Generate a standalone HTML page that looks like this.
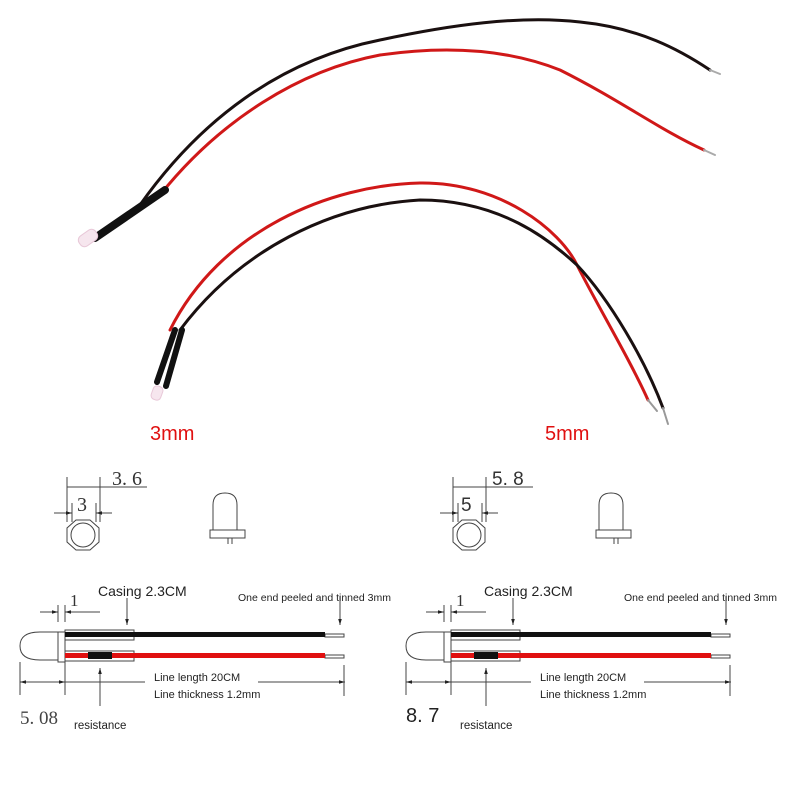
<!DOCTYPE html>
<html><head><style>body{margin:0;background:#fff}svg{display:block}</style></head><body>
<svg width="800" height="800" viewBox="0 0 800 800" xmlns="http://www.w3.org/2000/svg" font-family="Liberation Sans, sans-serif">
<defs>
<marker id="a" viewBox="0 0 10 10" refX="10" refY="5" markerWidth="6" markerHeight="6" orient="auto-start-reverse"><path d="M0,2 L10,5 L0,8z" fill="#222"/></marker>
<g id="diag">
 <g stroke="#444" stroke-width="1" fill="none">
  <line x1="67" y1="477" x2="67" y2="522"/><line x1="100" y1="477" x2="100" y2="522"/>
  <line x1="67" y1="487" x2="147" y2="487"/>
  <line x1="72" y1="503" x2="72" y2="522"/><line x1="96" y1="503" x2="96" y2="522"/>
  <line x1="54" y1="513" x2="72" y2="513" marker-end="url(#a)"/><line x1="112" y1="513" x2="96" y2="513" marker-end="url(#a)"/>
  <polygon points="76,520 90,520 99,528 99,542 90,550 76,550 67,542 67,528"/>
  <circle cx="83" cy="535" r="12"/>
  <path d="M213,530 V505 Q213,493 225,493 Q237,493 237,505 V530"/>
  <rect x="210" y="530" width="35" height="8"/>
  <line x1="228" y1="538" x2="228" y2="544"/><line x1="232" y1="538" x2="232" y2="544"/>
  <path d="M58,632 H40 Q20,632 20,646 Q20,660 40,660 H58"/>
  <rect x="58" y="632" width="7" height="30"/>
  <line x1="58" y1="605" x2="58" y2="622"/><line x1="65" y1="605" x2="65" y2="622"/>
  <line x1="40" y1="612" x2="58" y2="612" marker-end="url(#a)"/><line x1="100" y1="612" x2="65" y2="612" marker-end="url(#a)"/>
  <line x1="20" y1="662" x2="20" y2="695"/><line x1="65" y1="662" x2="65" y2="695"/>
  <line x1="42" y1="682" x2="20" y2="682" marker-end="url(#a)"/><line x1="42" y1="682" x2="65" y2="682" marker-end="url(#a)"/>
  <line x1="65" y1="682" x2="145" y2="682"/>
  <line x1="258" y1="682" x2="345" y2="682" marker-end="url(#a)"/>
  <line x1="344" y1="665" x2="344" y2="696"/>
  <line x1="127" y1="598" x2="127" y2="625" marker-end="url(#a)"/>
  <line x1="340" y1="596" x2="340" y2="625" marker-end="url(#a)"/>
  <line x1="100" y1="706" x2="100" y2="668" marker-end="url(#a)"/>
  <rect x="65" y="630" width="69" height="10" fill="#fff"/>
  <rect x="65" y="651" width="69" height="10" fill="#fff"/>
  <rect x="325" y="634" width="19" height="3" fill="#fff"/>
  <rect x="325" y="655" width="19" height="3" fill="#fff"/>
 </g>
 <rect x="65" y="632" width="260" height="5" fill="#111"/>
 <rect x="65" y="653" width="260" height="5" fill="#e01010"/>
 <rect x="88" y="652" width="24" height="7" fill="#111"/>
 <text x="98" y="596" font-size="14" fill="#222">Casing 2.3CM</text>
 <text x="238" y="601" font-size="10.5" fill="#222">One end peeled and tinned 3mm</text>
 <text x="154" y="681" font-size="11" fill="#222">Line length 20CM</text>
 <text x="154" y="698" font-size="11" fill="#222">Line thickness 1.2mm</text>
 <text x="74" y="729" font-size="11.5" fill="#222">resistance</text>
 <text x="70" y="606" font-size="17" font-family="Liberation Serif, serif" fill="#333">1</text>
</g>
</defs>
<g fill="none" stroke-linecap="round">
 <path d="M140,205 C200,120 280,60 380,40 C450,25 520,15 580,22 C640,28 680,50 710,70" stroke="#1a1010" stroke-width="3"/>
 <path d="M160,195 C220,120 300,70 380,55 C450,45 510,50 560,70 C620,100 660,130 704,150" stroke="#d01818" stroke-width="3"/>
 <path d="M710,70 L720,74 M704,150 L715,155" stroke="#aaa" stroke-width="2"/>
 <path d="M95,238 L165,190" stroke="#111" stroke-width="8"/>
 <path d="M170,330 C220,230 330,185 420,183 C500,182 560,230 577,265 C600,310 630,360 648,400" stroke="#d01818" stroke-width="3"/>
 <path d="M180,330 C240,250 330,205 420,200 C500,200 550,240 577,265 C610,300 645,360 663,408" stroke="#1a1010" stroke-width="3"/>
 <path d="M648,400 L657,411 M663,408 L668,424" stroke="#999" stroke-width="2"/>
 <path d="M157,382 L175,330 M166,386 L182,330" stroke="#111" stroke-width="6"/>
</g>
<rect x="78" y="232" width="20" height="12" rx="5" fill="#f6e6ee" stroke="#e8c8d8" transform="rotate(-35 88 238)"/>
<rect x="150" y="388" width="14" height="10" rx="4" fill="#f6e6ee" stroke="#e8c8d8" transform="rotate(-70 157 393)"/>
<text x="150" y="440" font-size="20" fill="#e01010">3mm</text>
<text x="545" y="440" font-size="20" fill="#e01010">5mm</text>
<use href="#diag"/>
<use href="#diag" transform="translate(386,0)"/>
<text x="112" y="485" font-size="20" font-family="Liberation Serif, serif" fill="#333">3. 6</text>
<text x="77" y="511" font-size="20" font-family="Liberation Serif, serif" fill="#333">3</text>
<text x="20" y="724" font-size="19" font-family="Liberation Serif, serif" fill="#444">5. 08</text>
<text x="492" y="485" font-size="19" fill="#333">5. 8</text>
<text x="461" y="511" font-size="19" fill="#333">5</text>
<text x="406" y="722" font-size="20" fill="#222">8. 7</text>
</svg>
</body></html>
